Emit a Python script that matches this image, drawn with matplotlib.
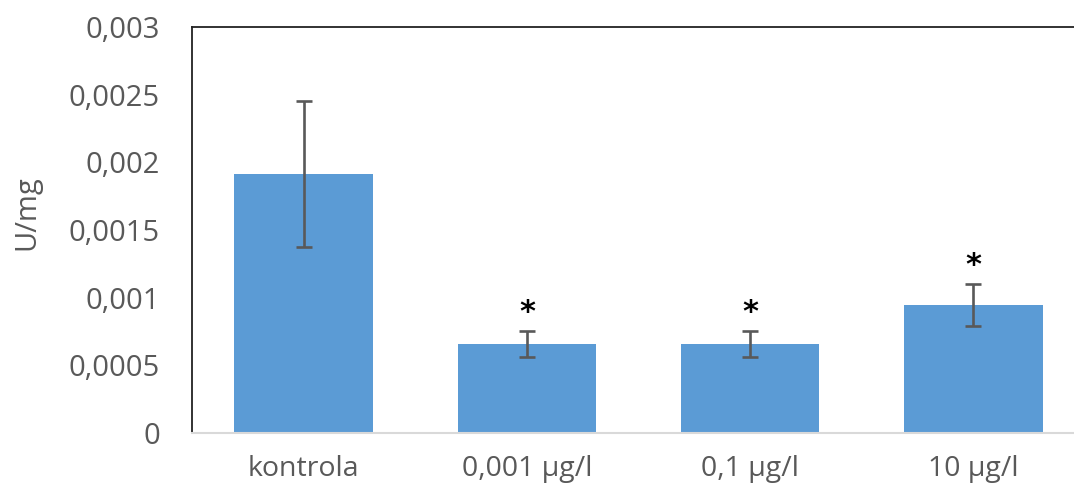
import matplotlib.pyplot as plt
import numpy as np

# data
categories = ['kontrola', '0,001 µg/l', '0,1 µg/l', '10 µg/l']
values = [0.001914, 0.000658, 0.000658, 0.000946]
errors = [0.000543, 0.000096, 0.000096, 0.000155]
significant = [False, True, True, True]
ytick_values = [0, 0.0005, 0.001, 0.0015, 0.002, 0.0025, 0.003]
ytick_labels = ['0', '0,0005', '0,001', '0,0015', '0,002', '0,0025', '0,003']

plt.rcParams['font.family'] = ['Open Sans', 'DejaVu Sans']
text_gray = '#595959'

fig = plt.figure(figsize=(10.74, 4.91), dpi=100)
ax = fig.add_axes([0.1788, 0.118, 0.8314, 0.827])

x = np.arange(len(categories))
ax.bar(x, values, width=0.62, color='#5B9BD5', zorder=2)
ax.errorbar(x, values, yerr=errors, fmt='none', ecolor=text_gray,
            elinewidth=1.9, capsize=6, capthick=1.9, zorder=3)

for xi, v, e, s in zip(x, values, errors, significant):
    if s:
        ax.annotate('*', (xi, v + e), xytext=(0, 13), textcoords='offset points',
                    ha='center', va='center', fontsize=22, fontweight='bold',
                    color='black', family='DejaVu Sans')

ax.set_xlim(-0.5, len(categories) - 0.5)
ax.set_ylim(0, 0.003)
ax.set_yticks(ytick_values)
ax.set_yticklabels(ytick_labels, fontsize=21)
ax.set_xticks(x)
ax.set_xticklabels(categories, fontsize=20.5)
ax.tick_params(axis='both', length=0, colors=text_gray)
ax.tick_params(axis='y', pad=23)
ax.tick_params(axis='x', pad=16)
ax.set_ylabel('U/mg', fontsize=21, color=text_gray, va='center')
ax.yaxis.set_label_coords(-0.185, 0.544)

ax.spines['left'].set_color('#222222')
ax.spines['left'].set_linewidth(1.3)
ax.spines['top'].set_color('#222222')
ax.spines['top'].set_linewidth(1.3)
ax.spines['bottom'].set_color('#d9d9d9')
ax.spines['bottom'].set_linewidth(1.5)
ax.spines['right'].set_visible(False)

fig.savefig('out.png', dpi=100)
